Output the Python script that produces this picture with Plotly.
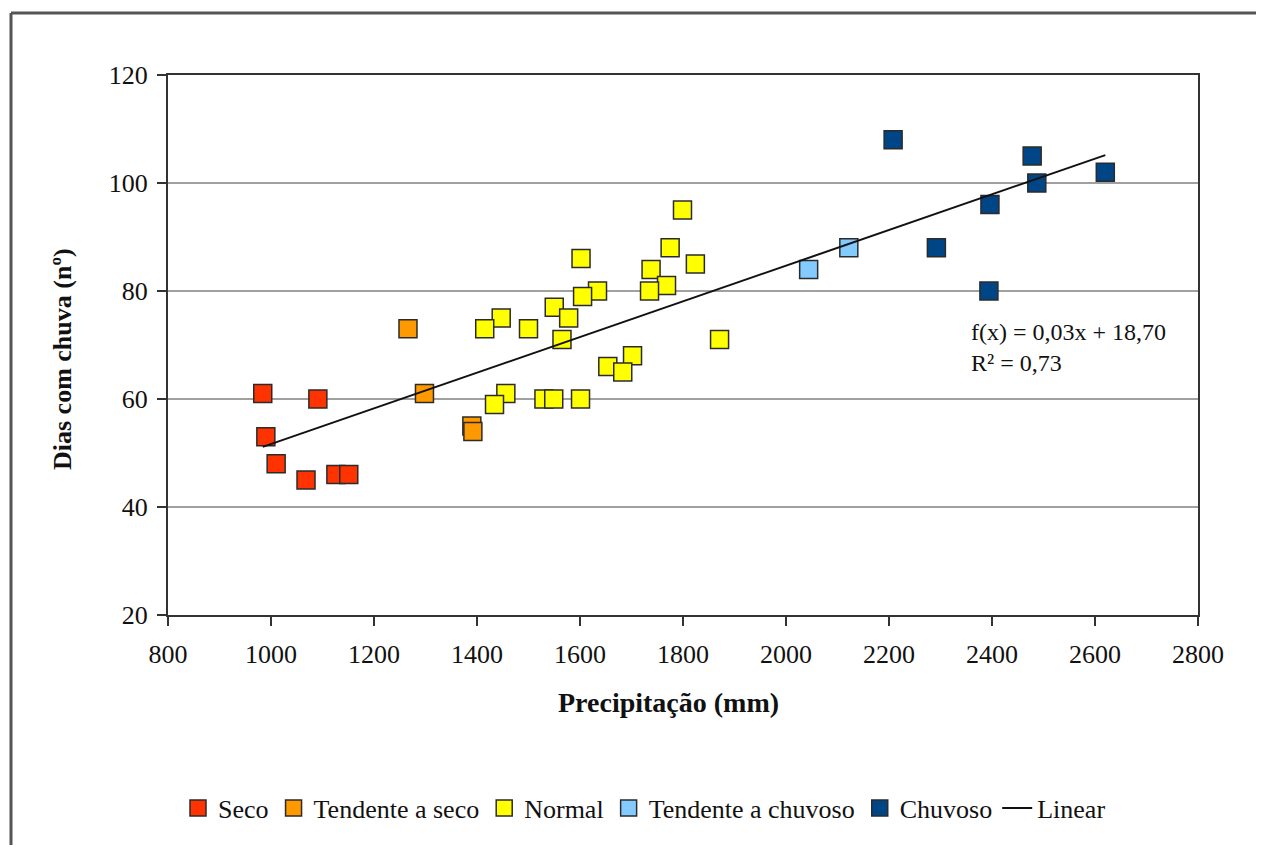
import numpy as np
import plotly.graph_objects as go

# ---- data ----
seco_x = [984, 990, 1010, 1068, 1091, 1126, 1151]
seco_y = [61, 53, 48, 45, 60, 46, 46]

tseco_x = [1266, 1298, 1390, 1392]
tseco_y = [73, 61, 55, 54]

normal_x = [1799, 1775, 1824, 1602, 1738, 1768, 1735, 1634, 1605, 1550, 1447, 1415,
            1500, 1578, 1565, 1871, 1702, 1654, 1683, 1456, 1434, 1530, 1549, 1601]
normal_y = [95, 88, 85, 86, 84, 81, 80, 80, 79, 77, 75, 73,
            73, 75, 71, 71, 68, 66, 65, 61, 59, 60, 60, 60]

tchuv_x = [2044, 2122]
tchuv_y = [84, 88]

chuv_x = [2208, 2292, 2396, 2394, 2478, 2487, 2620]
chuv_y = [108, 88, 96, 80, 105, 100, 102]

series_names = ["Seco", "Tendente a seco", "Normal", "Tendente a chuvoso", "Chuvoso"]
series_colors = ["#ff3300", "#ff9900", "#ffff00", "#83caff", "#004586"]
eq_text = "f(x) = 0,03x + 18,70<br>R² = 0,73"
x_title = "Precipitação (mm)"
y_title = "Dias com chuva (nº)"

FONT = "Liberation Serif, Times New Roman, serif"

xs = [seco_x, tseco_x, normal_x, tchuv_x, chuv_x]
ys = [seco_y, tseco_y, normal_y, tchuv_y, chuv_y]

fig = go.Figure()
for name, col, x, y in zip(series_names, series_colors, xs, ys):
    fig.add_trace(go.Scatter(
        x=x, y=y, mode="markers", name=name,
        marker=dict(symbol="square", size=18, color=col,
                    line=dict(color="#2b2b2b", width=1.5)),
    ))

all_x = np.concatenate([np.array(v, float) for v in xs])
all_y = np.concatenate([np.array(v, float) for v in ys])
slope, intercept = np.polyfit(all_x, all_y, 1)
lx = np.array([all_x.min(), all_x.max()])
fig.add_trace(go.Scatter(x=lx, y=slope * lx + intercept, mode="lines",
                         name="Linear", line=dict(color="#111111", width=2)))

OFF = 8  # page body margin
W, H = 1264 - 2 * OFF, 853 - 2 * OFF
L, R, T, B = 168 - OFF, 1198 - OFF, 75 - OFF, 615 - OFF
pw, ph = R - L, B - T

def px(xp):
    return (xp - OFF - L) / pw

def py(yp):
    return (B - (yp - OFF)) / ph

frame_style = dict(color="#555555", width=3)

fig.update_layout(
    width=W, height=H,
    margin=dict(l=L, r=W - R, t=T, b=H - B),
    paper_bgcolor="white", plot_bgcolor="white",
    font=dict(family=FONT, size=24, color="#111111"),
    showlegend=True,
    legend=dict(orientation="h", x=px(178), y=py(808), xanchor="left", yanchor="middle",
                font=dict(family=FONT, size=26, color="#111111"),
                itemwidth=30, tracegroupgap=0, bgcolor="rgba(0,0,0,0)"),
    xaxis=dict(range=[800, 2800], dtick=200, tick0=800, showgrid=False,
               showline=True, linecolor="#333333", linewidth=2, mirror=True,
               ticks="outside", ticklen=9, tickwidth=2, tickcolor="#333333",
               tickfont=dict(family=FONT, size=26, color="#111111"),
               ticklabelstandoff=6, zeroline=False),
    yaxis=dict(range=[20, 120], dtick=20, tick0=20, showgrid=True,
               gridcolor="#a0a0a0", gridwidth=2,
               showline=True, linecolor="#333333", linewidth=2, mirror=True,
               ticks="outside", ticklen=9, tickwidth=2, tickcolor="#333333",
               tickfont=dict(family=FONT, size=26, color="#111111"),
               ticklabelstandoff=4, zeroline=False),
    shapes=[
        dict(type="line", xref="paper", yref="paper",
             x0=px(11), x1=px(1280), y0=py(13), y1=py(13), line=frame_style, layer="below"),
        dict(type="line", xref="paper", yref="paper",
             x0=px(11), x1=px(11), y0=py(13), y1=py(870), line=frame_style, layer="below"),
    ],
    annotations=[
        dict(text=eq_text, xref="paper", yref="paper", x=px(969), y=py(347),
             xanchor="left", yanchor="middle", align="left", showarrow=False,
             font=dict(family=FONT, size=24, color="#111111")),
        dict(text="<b>" + x_title + "</b>", xref="paper", yref="paper", x=px(668), y=py(702),
             xanchor="center", yanchor="middle", showarrow=False,
             font=dict(family=FONT, size=28, color="#111111")),
        dict(text="<b>" + y_title + "</b>", xref="paper", yref="paper", x=px(62), y=py(359),
             xanchor="center", yanchor="middle", showarrow=False, textangle=-90,
             font=dict(family=FONT, size=26, color="#111111")),
    ],
)

fig.write_html("out.html")
